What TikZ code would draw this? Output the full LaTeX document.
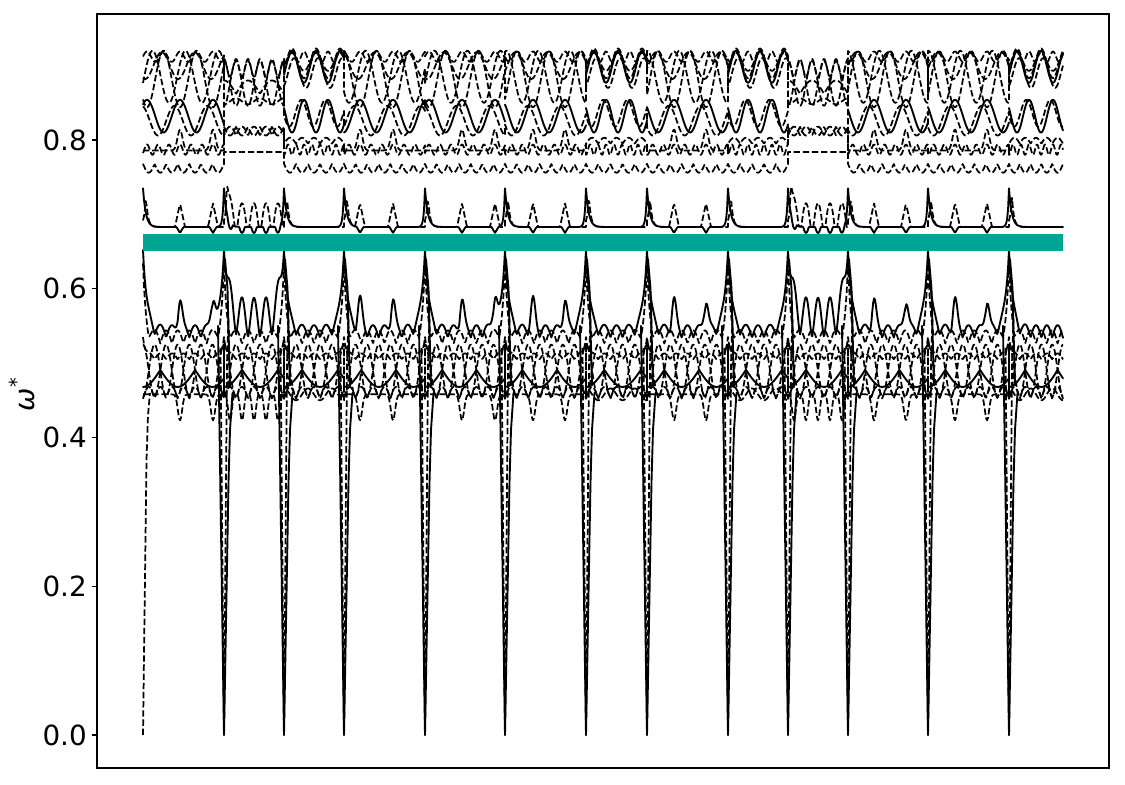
\documentclass[tikz,border=0pt]{standalone}
\usepackage{fontspec}
\setmainfont{DejaVu Sans}
\definecolor{bandteal}{RGB}{0,166,147}
\def\segs{143/224/1/0/0/180/213/1/11.57, 224/284/0/1/0/240/262/1/12, 284/344/0/0/1/304/328/1/12, 344/425/1/0/0/360/393/1/11.57, 425/505/1/0/0/462/495/1/11.43, 505/586/1/0/0/533/565/1/11.57, 586/647/0/0/1/606/630/1/12.2, 647/728/1/0/0/674/706/1/11.57, 728/788/0/0/1/748/772/1/12, 788/848/0/1/0/804/826/1/12, 848/928/1/0/0/874/906/1/11.43, 928/1009/1/0/0/955/987/1/11.57, 1009/1063/0/0/1/1029/1053/0/10.8}
\def\vS{abs(sin((\x-\xa)/\pp*180))}
\def\vC{cos((\x-\xa)/\pp*180)}
\def\vPH{((\x-\ca)/(\cb-\ca)*360)}
\def\vBL#1{exp((\xa-\x)/#1)}
\def\vBR#1{\rb*exp((\x-\xb)/#1)}
\def\vG#1#2{exp(0-((\x-#1)/#2)*((\x-#1)/#2))}
\def\vT#1#2{max(0,1-abs(\x-#1)/#2)}
\newcommand\bandpath[2]{%
  \def\x{143}\def\xa{143}\def\xb{224}\def\ta{1}\def\tb{0}\def\tc{0}\def\ca{180}\def\cb{213}\def\rb{1}\def\pp{11.57}%
  \pgfmathsetmacro\ystart{#2}%
  \draw[#1] (143,\ystart) \foreach \xa/\xb/\ta/\tb/\tc/\ca/\cb/\rb/\pp in \segs { -- plot[domain=\xa:\xb,samples=90] (\x,{#2}) };%
}
\begin{document}
\begin{tikzpicture}[x=0.72pt,y=535.5pt,
  sol/.style={line width=1.35pt,line join=round,line cap=round},
  dsh/.style={line width=1.25pt,dash pattern=on 4.6pt off 2pt,line join=round},
  ticklab/.style={anchor=east,inner sep=0pt,font=\fontsize{20}{24}\selectfont}]
\useasboundingbox (0,-0.06723) rectangle (1125,0.98824);

% ---------- lower band ----------
\bandpath{dsh}{0.526+0.018*abs(\vC)+0.09*(\vBL{2.5}+\vBR{2.5})}
\bandpath{dsh}{0.505+0.008*\vS+0.03*(\vBL{2}+\vBR{2})}
\bandpath{dsh}{0.49+0.035*\vC}
\bandpath{dsh}{0.49-0.035*\vC}
\bandpath{dsh}{0.452+0.016*\vS}
\bandpath{dsh}{0.458-\ta*0.035*(\vG{\ca}{3}+\vG{\cb}{3})-\tb*0.035*\vS*\vS*\vS*\vS+\tc*0.008*\vC}
\bandpath{sol}{0.491-0.023*abs(sin((\x-\xa)/\pp*60-90))}
\bandpath{sol}{0.534+\ta*(0.017*\vS+0.04*(\vG{\ca}{3}+\vG{\cb}{3}))+\tb*0.027*(\vS*\vS+\vS)+\tc*0.017*\vS+0.118*(\vBL{3.5}+\vBR{3.5})}

% ---------- acoustic branches ----------
\foreach \b in {224,284,344,425,505,586,647,728,788,848,928,1009} {
  \draw[sol] (\b-6,0.55) -- (\b,0) -- (\b+4.5,0.34) -- (\b+6,0.41) -- (\b+8.5,0.46);
  \draw[sol] (\b+1,0.64) -- (\b+3.5,0.60) -- (\b+5,0.52) -- (\b+6,0.47);
  \draw[dsh] (\b-3.5,0.52) -- (\b,0) -- (\b+3,0.50) -- (\b+4.5,0.56);
}
\draw[dsh] (143,0) -- (146.5,0.37) -- (148,0.43) -- (150,0.46);

% ---------- 0.68 band ----------
\bandpath{dsh}{0.683+0.04*exp(0-abs(\x-\xa-3)/2)+\ta*0.032*(\vT{\ca}{5}+\vT{\cb}{5})+\tb*0.032*max(0,(\vS-0.35)/0.65)}
\bandpath{sol}{0.683+0.052*(\vBL{2.8}+\vBR{1.2})-\ta*0.008*(\vT{\ca}{3.5}+\vT{\cb}{3.5})-\tb*0.008*max(0,(\vS-0.75)*4)}

% ---------- upper band ----------
\bandpath{dsh}{\ta*(0.912+0.007*cos(2*\vPH))+\tb*(0.876+0.03*\vC)+\tc*(0.912+0.007*cos(2*\vPH))}
\bandpath{dsh}{\ta*(0.882-0.038*cos(\vPH))+\tb*(0.876-0.03*\vC)+\tc*(0.905-0.012*cos(\vPH))}
\bandpath{dsh}{\ta*(0.885-0.035*cos(\vPH+120))+\tb*(0.897+0.012*cos((\x-\xa)/\pp*360))+\tc*(0.903-0.02*cos(\vPH))}
\bandpath{dsh}{\ta*(0.787+0.007*cos(3*\vPH))+\tb*(0.806+0.012*\vS)+\tc*(0.787+0.007*cos(3*\vPH))}
\bandpath{dsh}{\ta*(0.768-0.012*\vS)+\tb*0.784+\tc*(0.768-0.012*\vS)}
\bandpath{dsh}{\ta*(0.786+0.028*(\vG{\ca}{3.5}+\vG{\cb}{3.5}))+\tb*(0.818-0.012*\vS)+\tc*(0.795+0.008*\vS)}
\bandpath{dsh}{\ta*(0.826+0.02*cos(\vPH+60))+\tb*(0.852-0.004*\vC)+\tc*(0.836+0.018*cos(\vPH+40))}
\bandpath{dsh}{\ta*(0.9+0.018*cos(\vPH+200))+\tb*(0.862+0.018*abs(cos((\x-\xa)/\pp*90)))+\tc*(0.89+0.02*cos(\vPH+150))}
\foreach \xa/\xb/\ta/\tb/\tc/\ca/\cb/\rb/\pp in \segs {
  \ifnum\tb=0 \draw[sol] plot[domain=\xa:\xb,samples=80] (\x,{0.832+0.022*cos(\vPH)}); \fi
  \ifnum\tc=1 \draw[sol] plot[domain=\xa:\xb,samples=80] (\x,{0.8985-0.0215*cos(\vPH)}); \fi
}

% ---------- teal band ----------
\fill[bandteal] (143,0.651) rectangle (1063,0.674);

% ---------- axes ----------
\draw[line width=0.8pt] (97,-0.04437) rectangle (1109,0.96941);
\foreach \v/\n in {0.0/a,0.2/b,0.4/c,0.6/d,0.8/e} {
  \draw[line width=0.8pt] (97,\v) -- (92,\v);
  \node[ticklab] (tick\n) at (87,\v) {\v};
}
\node[rotate=90,inner sep=0pt,font=\fontsize{20}{24}\selectfont] (ylab) at (22,0.458) {{\itshape ω}\textsuperscript{*}};
\end{tikzpicture}
\end{document}
